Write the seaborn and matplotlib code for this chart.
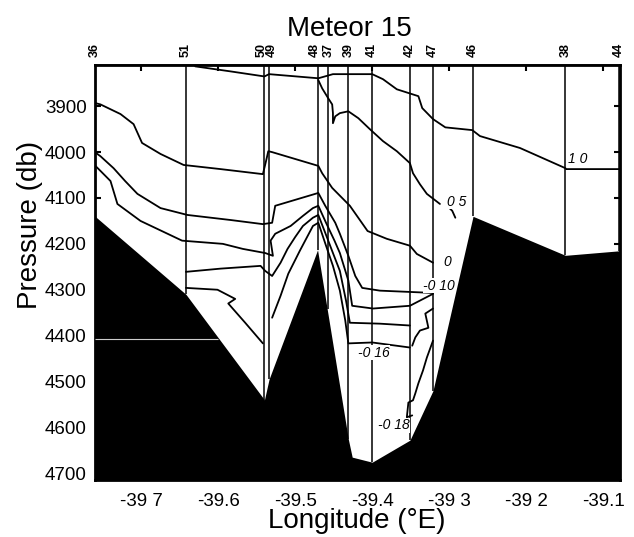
import matplotlib
matplotlib.use("Agg")
import seaborn as sns
import matplotlib.pyplot as plt

# stations on the section: label, longitude, bottom pressure
stations = ['36', '51', '50', '49', '48', '37', '39', '41', '42', '47', '46', '38', '44']
station_lon = [-39.760, -39.642, -39.540, -39.534, -39.471, -39.458, -39.431,
               -39.400, -39.351, -39.321, -39.269, -39.149, -39.080]
station_bottom = [4140, 4310, 4540, 4495, 4213, 4343, 4626, 4676, 4628, 4520, 4140, 4225, 4215]

# bottom topography
bathy_lon = [-39.760, -39.642, -39.540, -39.534, -39.471, -39.431, -39.426,
             -39.400, -39.351, -39.321, -39.269, -39.149, -39.078]
bathy_p = [4140, 4310, 4540, 4495, 4213, 4626, 4665, 4676, 4628, 4520, 4140, 4225, 4215]

# axis ticks
lon_ticks = [-39.7, -39.6, -39.5, -39.4, -39.3, -39.2, -39.1]
lon_tick_labels = ['-39 7', '-39.6', '-39.5', '-39.4', '-39 3', '-39 2', '-39.1']
p_ticks = [3900, 4000, 4100, 4200, 4300, 4400, 4500, 4600, 4700]

# contour lines (longitude, pressure)
c_10_lon = [-39.630, -39.584, -39.540, -39.534, -39.470, -39.451, -39.400, -39.386, -39.368,
            -39.340, -39.335, -39.321, -39.305, -39.270, -39.260, -39.208, -39.149, -39.148, -39.078]
c_10_p = [3813, 3824, 3835, 3830, 3839, 3830, 3830, 3841, 3863,
          3878, 3904, 3928, 3946, 3952, 3965, 3991, 4035, 4037, 4037]

c_05_lon = [-39.470, -39.465, -39.457, -39.452, -39.451, -39.451, -39.448, -39.442, -39.431, -39.418,
            -39.403, -39.386, -39.368, -39.351, -39.347, -39.338, -39.329, -39.312]
c_05_p = [3843, 3861, 3883, 3896, 3915, 3937, 3922, 3915, 3911, 3926,
          3950, 3976, 3998, 4024, 4046, 4070, 4091, 4113]
c_05b_lon = [-39.301, -39.296, -39.292]
c_05b_p = [4120, 4128, 4143]

c_00_lon = [-39.760, -39.753, -39.727, -39.710, -39.699, -39.675, -39.645, -39.597, -39.542, -39.538,
            -39.535, -39.530, -39.500, -39.470, -39.465, -39.452, -39.429, -39.406, -39.381, -39.351,
            -39.342, -39.321]
c_00_p = [3893, 3896, 3917, 3939, 3980, 4004, 4028, 4037, 4048, 4020,
          3998, 4000, 4015, 4030, 4046, 4078, 4117, 4172, 4189, 4204,
          4222, 4241]

c_m10_lon = [-39.762, -39.753, -39.736, -39.721, -39.705, -39.675, -39.640, -39.584, -39.542, -39.530,
             -39.526, -39.500, -39.470, -39.461, -39.448, -39.442, -39.431, -39.422, -39.413, -39.390,
             -39.321]
c_m10_p = [3998, 4009, 4035, 4063, 4091, 4122, 4137, 4148, 4157, 4154,
           4117, 4104, 4089, 4117, 4154, 4178, 4226, 4270, 4296, 4302,
           4307]

c_m12_lon = [-39.762, -39.753, -39.740, -39.731, -39.701, -39.647, -39.594, -39.568, -39.539, -39.529,
             -39.532, -39.526, -39.506, -39.490, -39.477, -39.470, -39.460, -39.449, -39.442, -39.431,
             -39.426, -39.399, -39.351, -39.321]
c_m12_p = [4026, 4041, 4063, 4113, 4150, 4193, 4200, 4211, 4220, 4226,
           4193, 4178, 4161, 4139, 4122, 4117, 4154, 4193, 4220, 4280,
           4335, 4341, 4335, 4309]

c_m14_lon = [-39.642, -39.597, -39.545, -39.539, -39.530, -39.519, -39.510, -39.500, -39.490, -39.477,
             -39.470, -39.461, -39.451, -39.442, -39.434, -39.429, -39.390, -39.351]
c_m14_p = [4261, 4254, 4248, 4259, 4270, 4241, 4211, 4185, 4161, 4143,
           4137, 4176, 4220, 4259, 4324, 4372, 4374, 4378]

c_m15_lon = [-39.642, -39.601, -39.578, -39.587, -39.565, -39.542]
c_m15_p = [4296, 4300, 4320, 4330, 4372, 4417]

c_m16_lon = [-39.530, -39.519, -39.509, -39.494, -39.477, -39.470, -39.460, -39.451, -39.442, -39.435,
             -39.431, -39.400, -39.351]
c_m16_p = [4361, 4313, 4265, 4215, 4161, 4154, 4204, 4248, 4302, 4367,
           4417, 4415, 4426]

c_m17_lon = [-39.321, -39.331, -39.327, -39.338, -39.344, -39.348]
c_m17_p = [4341, 4352, 4383, 4389, 4404, 4422]

c_m18_lon = [-39.321, -39.329, -39.334, -39.340, -39.344, -39.347, -39.353, -39.355, -39.348]
c_m18_p = [4411, 4448, 4476, 4504, 4526, 4541, 4546, 4578, 4574]

# contour labels
label_text = ['1 0', '0 5', '0', '-0 10', '-0 16', '-0 18']
label_lon = [-39.145, -39.303, -39.308, -39.334, -39.418, -39.392]
label_p = [4016, 4109, 4239, 4291, 4437, 4596]

sns.set_theme(style='ticks')
plt.rcParams['font.family'] = ['Liberation Sans', 'DejaVu Sans']
plt.rcParams['text.color'] = 'black'
plt.rcParams['xtick.color'] = 'black'
plt.rcParams['ytick.color'] = 'black'

fig = plt.figure(figsize=(6.34, 5.37), dpi=100)
ax = fig.add_axes([0.150, 0.106, 0.828, 0.773])

contours = [(c_10_lon, c_10_p), (c_05_lon, c_05_p), (c_05b_lon, c_05b_p), (c_00_lon, c_00_p),
            (c_m10_lon, c_m10_p), (c_m12_lon, c_m12_p), (c_m14_lon, c_m14_p), (c_m15_lon, c_m15_p),
            (c_m16_lon, c_m16_p), (c_m17_lon, c_m17_p), (c_m18_lon, c_m18_p)]
for lon, p in contours:
    sns.lineplot(x=lon, y=p, sort=False, estimator=None, color='black', lw=1.3, ax=ax, zorder=2)

# station casts
ax.vlines(station_lon, 3800, station_bottom, color='black', lw=1.1, zorder=2)

# sea floor
ax.fill_between(bathy_lon, bathy_p, 4800, color='black', lw=0, zorder=3)
ax.hlines(4407, -39.760, -39.600, color='#cccccc', lw=0.8, zorder=4)

for t, x, y in zip(label_text, label_lon, label_p):
    ax.text(x, y, t, style='italic', fontsize=10, ha='left', va='center', zorder=5,
            bbox=dict(facecolor='white', edgecolor='none', pad=0.2))

ax.set_xlim(-39.760, -39.078)
ax.set_ylim(4715, 3810)
ax.set_xticks(lon_ticks)
ax.set_xticklabels(lon_tick_labels)
ax.set_yticks(p_ticks)
ax.tick_params(direction='in', top=True, right=True, length=4, width=1.5,
               labelsize=13.5, color='black', labelcolor='black')
ax.tick_params(axis='x', pad=9)
ax.tick_params(axis='y', pad=6)
for s in ax.spines.values():
    s.set_linewidth(2)
    s.set_color('black')

# station numbers along the top; close pairs pushed apart a little
nudge = {'50': -0.004, '49': 0.004, '48': -0.004, '37': 0.002}
top = ax.secondary_xaxis('top')
top.set_xticks([x + nudge.get(s, 0) for s, x in zip(stations, station_lon)])
top.set_xticklabels(stations, rotation=90, fontsize=9, fontweight='bold')
top.tick_params(length=0, pad=6, labelcolor='black')

fig.text(349 / 634, 1 - 36 / 537, 'Meteor 15', ha='center', va='baseline', fontsize=20)
fig.text(357 / 634, 1 - 528 / 537, 'Longitude (°E)', ha='center', va='baseline', fontsize=20)
fig.text(30 / 634, 1 - 225 / 537, 'Pressure (db)', ha='center', va='center', rotation=90, fontsize=20)

fig.savefig('out.png', dpi=100)
